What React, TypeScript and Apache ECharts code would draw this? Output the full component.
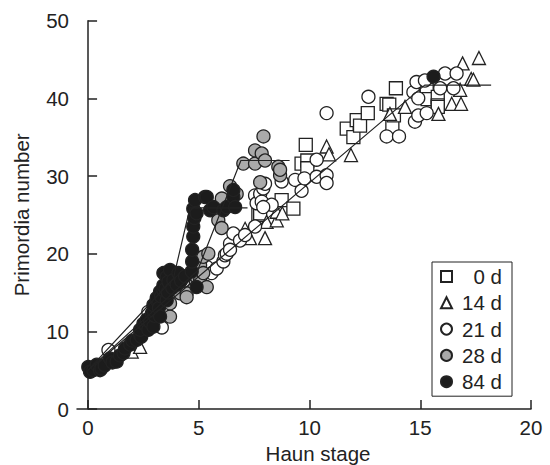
import React, { useEffect, useRef } from "react";
import * as echarts from "echarts";

const xTicks = [0, 5, 10, 15, 20];
const seriesNames = ["0 d", "14 d", "21 d", "28 d", "84 d"];

const d0: number[][] = [
  [7.69, 25.0], [7.77, 25.2], [8.74, 26.9], [9.27, 25.8], [9.64, 31.6], [9.83, 34.0],
  [9.9, 32.0], [9.9, 31.0], [11.68, 36.1], [11.98, 35.0], [12.13, 37.2], [12.28, 36.5],
  [12.63, 38.1], [13.48, 39.3], [13.6, 39.2], [13.74, 36.3], [13.81, 37.8], [13.9, 41.3],
  [15.29, 41.1], [15.33, 39.9], [15.79, 40.2], [15.79, 39.1], [15.79, 38.9],
];
const d14: number[][] = [
  [1.97, 7.4], [2.35, 8.0], [7.09, 23.2], [7.31, 22.0], [7.99, 22.0], [8.06, 24.1],
  [8.52, 24.3], [8.52, 25.4], [8.77, 25.2], [10.77, 33.8], [10.88, 32.8], [11.87, 32.7],
  [13.63, 38.0], [14.31, 38.9], [15.82, 38.0], [16.42, 39.3], [16.84, 39.3], [16.8, 41.1],
  [16.91, 44.5], [17.65, 45.2], [17.3, 42.5], [17.4, 42.4],
];
const d21: number[][] = [
  [0.92, 7.6], [2.72, 12.5], [3.33, 10.5], [4.3, 16.4], [4.75, 17.5], [4.83, 18.5],
  [5.36, 18.3], [5.58, 17.5], [5.81, 18.1], [6.11, 19.0], [6.18, 19.8], [6.26, 20.0],
  [6.41, 21.3], [6.41, 20.5], [6.56, 22.6], [6.86, 21.7], [7.09, 22.4], [7.54, 23.5],
  [7.54, 27.5], [7.61, 26.5], [7.77, 27.7], [7.84, 26.7], [7.91, 28.4], [7.99, 29.0],
  [8.29, 26.3], [7.91, 26.0], [8.74, 29.3], [9.35, 29.5], [9.64, 28.1], [9.77, 29.7],
  [10.32, 32.1], [10.32, 29.9], [10.77, 30.1], [10.77, 29.1], [10.77, 38.1], [12.66, 40.2],
  [13.48, 35.1], [14.04, 35.1], [14.76, 37.0], [14.91, 37.8], [15.29, 38.1], [14.69, 40.8],
  [14.91, 40.0], [14.83, 42.1], [15.21, 42.3], [15.9, 41.3], [16.12, 43.2], [16.5, 41.3],
  [16.64, 43.2],
];
const d28: number[][] = [
  [3.7, 11.9], [3.7, 13.6], [4.15, 14.9], [4.45, 14.9], [4.45, 14.4], [4.9, 17.0],
  [5.06, 18.5], [5.06, 16.6], [5.2, 17.5], [5.2, 19.6], [5.36, 15.7], [5.43, 20.0],
  [5.88, 24.3], [6.03, 23.3], [6.04, 27.1], [6.41, 28.7], [6.71, 27.7], [7.01, 31.6],
  [7.54, 31.6], [7.54, 33.3], [7.77, 29.2], [7.84, 32.9], [7.92, 35.1], [7.99, 32.0],
  [8.59, 31.2], [8.67, 30.1], [8.67, 30.8],
];
const d84: number[][] = [
  [0.01, 5.4], [0.09, 4.8], [0.24, 5.0], [0.39, 5.7], [0.54, 5.0], [0.6, 5.2], [0.75, 5.6],
  [0.99, 6.5], [1.1, 6.0], [1.29, 6.1], [1.44, 6.9], [1.6, 7.2], [1.67, 7.8], [1.9, 8.3],
  [2.0, 8.8], [2.2, 8.9], [2.35, 9.5], [2.4, 9.3], [2.35, 10.2], [2.5, 11.0], [2.6, 10.8],
  [2.65, 11.5], [2.72, 10.2], [2.8, 11.2], [2.88, 12.3], [2.95, 10.6], [3.0, 12.0],
  [2.95, 12.7], [2.95, 13.4], [3.1, 14.0], [3.1, 14.3], [3.2, 13.0], [3.25, 11.9],
  [3.25, 15.1], [3.3, 14.5], [3.4, 15.3], [3.4, 15.9], [3.4, 17.5], [3.5, 15.5],
  [3.55, 14.0], [3.55, 17.0], [3.6, 15.0], [3.63, 16.4], [3.7, 17.9], [3.8, 15.6],
  [3.85, 16.6], [4.0, 16.0], [4.08, 17.5], [4.2, 16.5], [4.38, 17.1], [4.68, 17.7],
  [4.9, 15.7], [4.7, 19.0], [4.7, 20.5], [4.75, 22.2], [4.75, 23.5], [4.8, 24.6],
  [4.75, 25.8], [4.83, 26.9], [4.9, 25.2], [5.28, 27.3], [5.36, 27.3], [5.51, 25.6],
  [5.66, 26.0], [6.11, 25.6], [6.26, 26.0], [6.56, 27.3], [6.56, 28.2], [6.64, 26.0],
  [15.6, 42.8],
];

const fitMain: number[][] = [[0, 5], [15.2, 41.7], [18.2, 41.7]];
const fit28: number[][] = [[0, 5], [4.94, 17.8], [6.9, 32.0], [9.1, 32.0]];
const fit84: number[][] = [[0, 5], [3.85, 16.8], [4.6, 25.9], [7.2, 25.9]];

const FONT = "'Liberation Sans', Arial, Helvetica, sans-serif";
const INK = "#222";
const FS = 20.5;

export default function App() {
  const ref = useRef<HTMLDivElement>(null);
  useEffect(() => {
    if (!ref.current) return;
    const chart = echarts.init(ref.current, null, { renderer: "svg" });
    const pt = (name: string, data: number[][], symbol: string, fill: string, z: number) => ({
      name,
      type: "scatter",
      data,
      symbol,
      symbolSize: 13,
      z,
      itemStyle: { color: fill, borderColor: INK, borderWidth: 1.3, opacity: 1 },
    });
    const fit = (name: string, data: number[][]) => ({
      name,
      type: "line",
      data,
      symbol: "none",
      z: 10,
      lineStyle: { color: INK, width: 1.2 },
    });
    chart.setOption({
      animation: false,
      backgroundColor: "#fff",
      textStyle: { fontFamily: FONT },
      grid: { left: 77, right: 19, top: 20.7, bottom: 56, containLabel: false, outerBoundsMode: "none" },
      xAxis: {
        type: "value",
        min: -0.5,
        max: 20,
        name: "Haun stage",
        nameLocation: "middle",
        nameGap: 33,
        nameTextStyle: { fontSize: FS, color: INK, fontFamily: FONT, padding: [0, 0, 0, 28] },
        axisLine: { show: true, lineStyle: { color: INK, width: 1.5 } },
        axisTick: { show: true, inside: true, length: 9, customValues: xTicks, lineStyle: { color: INK, width: 1.5 } },
        axisLabel: { customValues: xTicks, fontSize: FS, color: INK, margin: 8, fontFamily: FONT },
        splitLine: { show: false },
      },
      yAxis: {
        type: "value",
        min: 0,
        max: 50,
        interval: 10,
        name: "Primordia number",
        nameLocation: "middle",
        nameGap: 45,
        nameTextStyle: { fontSize: FS, color: INK, fontFamily: FONT },
        axisLine: { show: true, lineStyle: { color: INK, width: 1.5 } },
        axisTick: { show: true, inside: true, length: 9, lineStyle: { color: INK, width: 1.5 } },
        axisLabel: { fontSize: FS, color: INK, margin: 8, fontFamily: FONT },
        splitLine: { show: false },
      },
      legend: {
        data: seriesNames,
        orient: "vertical",
        left: 432,
        top: 262,
        itemWidth: 11,
        itemHeight: 11,
        itemGap: 5.3,
        padding: [4, 10, 4, 8],
        borderColor: INK,
        borderWidth: 1,
        backgroundColor: "#fff",
        formatter: (n: string) => `{r|${n}}`,
        textStyle: {
          color: INK,
          fontSize: FS,
          fontFamily: FONT,
          rich: { r: { width: 45, align: "right", fontSize: FS, lineHeight: 20.5, color: INK, fontFamily: FONT } },
        },
      },
      series: [
        pt("0 d", d0, "rect", "#ffffff", 2),
        pt("14 d", d14, "triangle", "#ffffff", 3),
        pt("21 d", d21, "circle", "#ffffff", 4),
        pt("28 d", d28, "circle", "#aaaaaa", 5),
        pt("84 d", d84, "circle", "#1c1c1c", 6),
        fit("fit main", fitMain),
        fit("fit 28", fit28),
        fit("fit 84", fit84),
      ],
    });
    return () => chart.dispose();
  }, []);
  return <div ref={ref} style={{ width: 550, height: 465, position: "absolute", left: 0, top: 0 }} />;
}
